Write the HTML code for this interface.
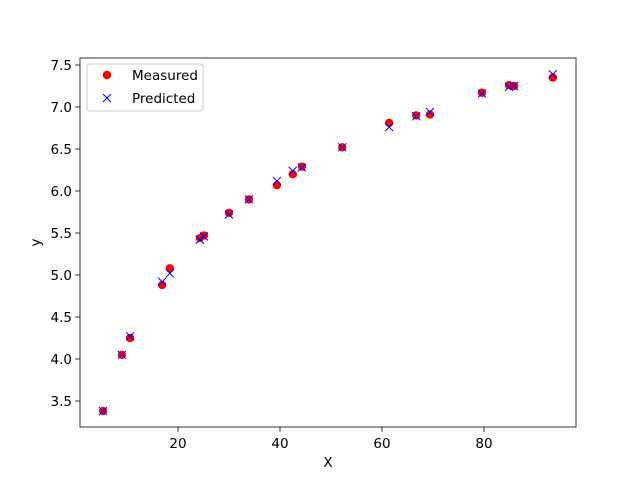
<!DOCTYPE html>
<html><head><meta charset="utf-8"><style>
body{margin:0;background:#fff}
svg{display:block;font-family:"DejaVu Sans","Liberation Sans",sans-serif}
</style></head><body>
<svg id="chart" width="640" height="480">
<rect x="0" y="0" width="640" height="480" fill="#fff"/>
<g id="plot"></g>
</svg>
<script>
const xVals=[5.3,9.0,10.6,16.9,18.4,24.3,25.1,30.0,33.9,39.4,42.5,44.3,52.2,61.4,66.7,69.4,79.6,84.9,85.9,93.5];
const measured=[3.38,4.05,4.25,4.88,5.08,5.44,5.47,5.74,5.90,6.07,6.20,6.29,6.52,6.81,6.90,6.91,7.17,7.26,7.25,7.35];
const predicted=[3.38,4.05,4.27,4.92,5.02,5.42,5.46,5.72,5.90,6.12,6.24,6.28,6.52,6.76,6.89,6.94,7.16,7.24,7.25,7.39];
const xTicks=[20,40,60,80];
const yTicks=[3.5,4.0,4.5,5.0,5.5,6.0,6.5,7.0,7.5];
const L=80,R=576,T=58,B=427;
const sx=v=>76+v*5.1;
const sy=v=>401-(v-3.5)*84;
const ns="http://www.w3.org/2000/svg";
const g=document.getElementById('plot');
function mk(t,a,txt){const e=document.createElementNS(ns,t);for(const k in a)e.setAttribute(k,a[k]);if(txt!==undefined)e.textContent=txt;g.appendChild(e);return e;}
xTicks.forEach(v=>{
 const l=mk('line',{x1:sx(v),x2:sx(v),y1:B,y2:B+4.9,stroke:'#000','stroke-width':0.8});
 
 
 const t=mk('text',{x:sx(v),y:B+21,'font-size':13.5,'text-anchor':'middle'},String(v));
 
 
});
yTicks.forEach(v=>{
 const l=mk('line',{x1:L-4.9,x2:L,y1:sy(v),y2:sy(v),stroke:'#000','stroke-width':0.8});
 
 
 const t=mk('text',{x:L-8,y:sy(v)+5,'font-size':13.5,'text-anchor':'end'},v.toFixed(1));
 
 
});
xVals.forEach((x,i)=>{
 const c=mk('circle',{cx:sx(x),cy:sy(measured[i]),r:4.2,fill:'#ff0000'});
 
 
});
xVals.forEach((x,i)=>{
 const px=sx(x),py=sy(predicted[i]);
 const p=mk('path',{d:`M${px-4},${py-4}L${px+4},${py+4}M${px-4},${py+4}L${px+4},${py-4}`,stroke:'#0000ff','stroke-width':1,fill:'none'});
 
 
});
const fr=mk('rect',{x:L,y:T,width:R-L,height:B-T,fill:'none',stroke:'#000','stroke-width':0.8});


const xl=mk('text',{x:(L+R)/2,y:467,'font-size':13.5,'text-anchor':'middle'},'X');


const yl=mk('text',{x:40,y:(T+B)/2,'font-size':13.5,'text-anchor':'middle',transform:`rotate(-90 40 ${(T+B)/2})`},'y');


const lg=mk('rect',{x:87,y:64,width:116,height:47,rx:3,fill:'#fff','fill-opacity':0.8,stroke:'#ccc','stroke-width':1});


const lc=mk('circle',{cx:107,cy:75,r:4.2,fill:'#ff0000'});


const lt1=mk('text',{x:132,y:80,'font-size':13.5},'Measured');


const lx=mk('path',{d:'M103,94L111,102M103,102L111,94',stroke:'#0000ff','stroke-width':1});


const lt2=mk('text',{x:132,y:103,'font-size':13.5},'Predicted');


</script>
</body></html>
